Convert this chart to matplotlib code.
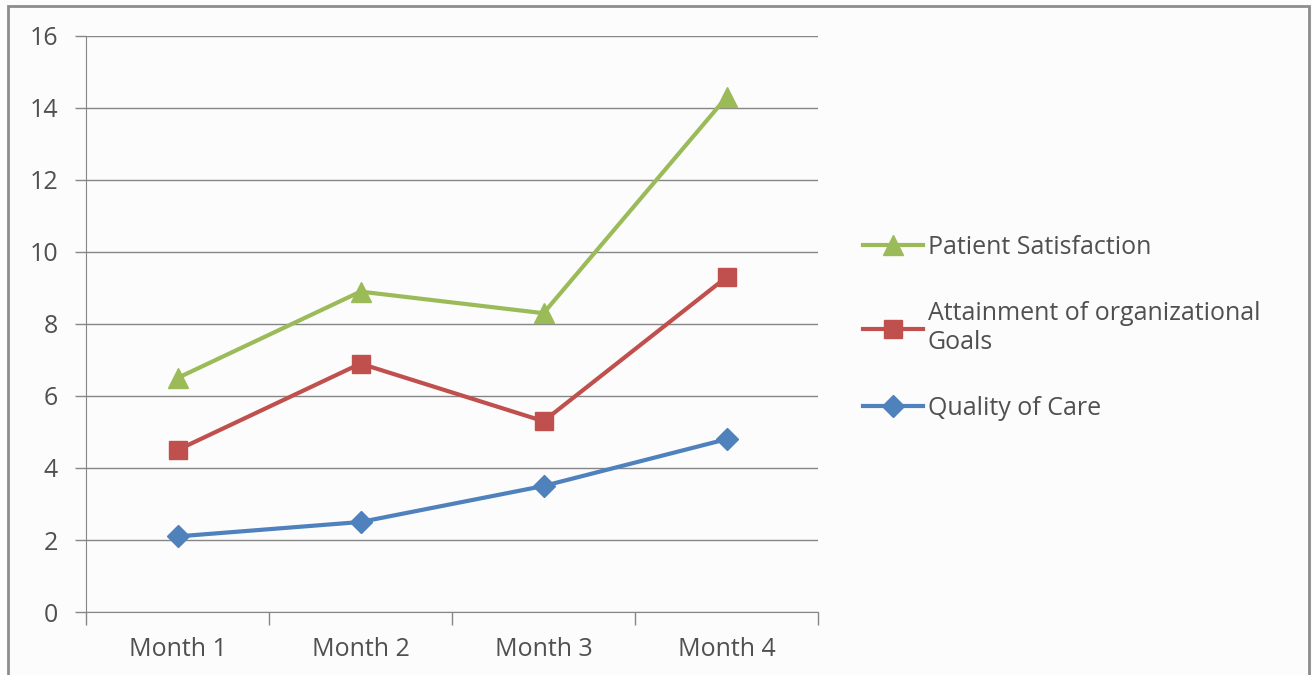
import matplotlib.pyplot as plt
from matplotlib.patches import Rectangle

months = ['Month 1', 'Month 2', 'Month 3', 'Month 4']
patient_satisfaction = [6.5, 8.9, 8.3, 14.3]
org_goals = [4.5, 6.9, 5.3, 9.3]
quality_of_care = [2.1, 2.5, 3.5, 4.8]

plt.rcParams['font.family'] = ['Open Sans', 'DejaVu Sans']

fig = plt.figure(figsize=(13.12, 6.75), dpi=100, facecolor='#fcfcfc')
ax = fig.add_axes([86 / 1312, 1 - 612 / 675, 732 / 1312, 576 / 675])
ax.set_facecolor('#fcfcfc')

x = range(len(months))
ax.plot(x, quality_of_care, color='#4f81bd', lw=3, marker='D', ms=11,
        label='Quality of Care', zorder=3)
ax.plot(x, org_goals, color='#c0504d', lw=3, marker='s', ms=13,
        label='Attainment of organizational\nGoals', zorder=3)
ax.plot(x, patient_satisfaction, color='#9bbb59', lw=3, marker='^', ms=15,
        label='Patient Satisfaction', zorder=3)

ax.set_xlim(-0.5, 3.5)
ax.set_ylim(0, 16)
ax.set_yticks(range(0, 17, 2))
ax.grid(axis='y', color='#868686', lw=1)
ax.set_axisbelow(True)

ax.set_xticks([-0.5, 0.5, 1.5, 2.5, 3.5])
ax.set_xticklabels([])
ax.set_xticks(list(x), minor=True)
ax.set_xticklabels(months, minor=True)
ax.tick_params(axis='x', which='major', length=9, color='#868686', width=1)
ax.tick_params(axis='x', which='minor', length=0, pad=18, labelsize=18,
               labelcolor='#505050')
ax.tick_params(axis='y', length=8, color='#868686', width=1, pad=12,
               labelsize=18, labelcolor='#505050')

for s in ['top', 'right']:
    ax.spines[s].set_visible(False)
for s in ['left', 'bottom']:
    ax.spines[s].set_color('#868686')

handles, labels = ax.get_legend_handles_labels()
leg = fig.legend(handles[::-1], labels[::-1], loc='center left',
                 bbox_to_anchor=(840 / 1312, 1 - 328 / 675), frameon=False,
                 fontsize=18, labelcolor='#505050', handlelength=2.4,
                 handletextpad=0.2, labelspacing=1.65)

fig.patches.append(Rectangle((8 / 1312, -0.05), 1301 / 1312, 1.05 - 6 / 675,
                             transform=fig.transFigure, fill=False,
                             edgecolor='#8c8c8c', lw=2))

fig.savefig('out.png', dpi=100, facecolor=fig.get_facecolor())
